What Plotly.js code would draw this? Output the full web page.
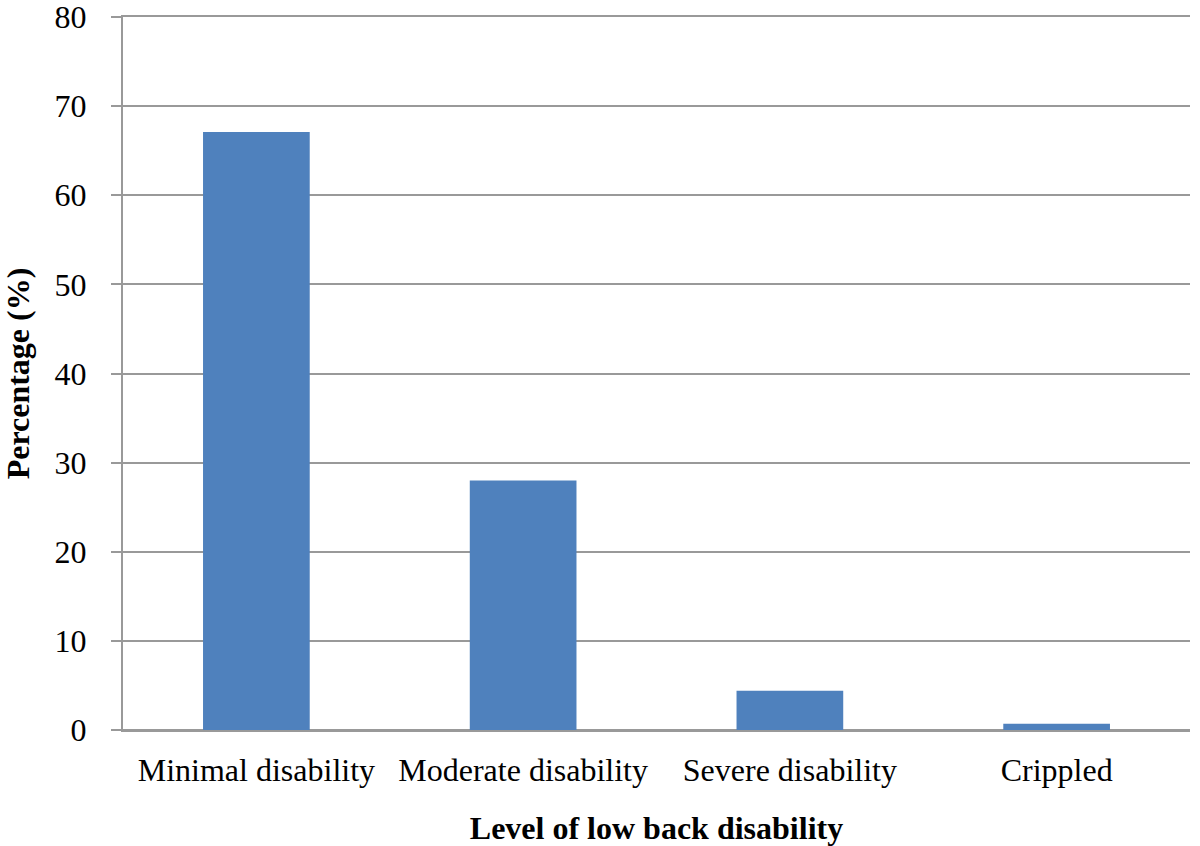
<!DOCTYPE html>
<html>
<head>
<meta charset="utf-8">
<script src="https://cdn.plot.ly/plotly-3.0.1.min.js"></script>
<style>html,body{margin:0;padding:0;background:#fff;}#chart{width:1200px;height:846px;}</style>
</head>
<body>
<div id="chart"></div>
<script>
const categories = ["Minimal disability", "Moderate disability", "Severe disability", "Crippled"];
const percentages = [67.1, 28.0, 4.4, 0.7];
const yTicks = [0, 10, 20, 30, 40, 50, 60, 70, 80];

const trace = {
  type: "bar",
  x: categories,
  y: percentages,
  marker: {color: "#4F81BD"},
  width: 0.4,
  hoverinfo: "x+y"
};

const font = "Liberation Serif, Times New Roman, serif";
const layout = {
  width: 1200, height: 846,
  margin: {l: 123, r: 10, t: 17, b: 116},
  paper_bgcolor: "#fff", plot_bgcolor: "#fff",
  showlegend: false,
  font: {family: font, color: "#000", size: 32},
  xaxis: {
    type: "category",
    showgrid: false,
    showline: true,
    mirror: true,
    linecolor: "#999",
    linewidth: 2,
    zeroline: false,
    ticks: "",
    ticklabelstandoff: 11,
    tickfont: {family: font, size: 32, color: "#000"},
    title: {text: "<b>Level of low back disability</b>", font: {family: font, size: 32, color: "#000"}, standoff: 40}
  },
  yaxis: {
    range: [0, 80],
    tickvals: yTicks,
    ticktext: yTicks.map(String),
    showgrid: true,
    gridcolor: "#999",
    gridwidth: 2,
    showline: true,
    linecolor: "#999",
    linewidth: 2,
    zeroline: true,
    zerolinecolor: "#999",
    zerolinewidth: 2,
    ticks: "outside",
    ticklen: 10,
    tickwidth: 2,
    tickcolor: "#999",
    ticklabelstandoff: 18,
    ticklabeloverflow: "allow",
    tickfont: {family: font, size: 32, color: "#000"},
    title: {text: "<b>Percentage (%)</b>", font: {family: font, size: 32, color: "#000"}, standoff: 22}
  }
};

Plotly.newPlot("chart", [trace], layout, {displayModeBar: false});
</script>
</body>
</html>
